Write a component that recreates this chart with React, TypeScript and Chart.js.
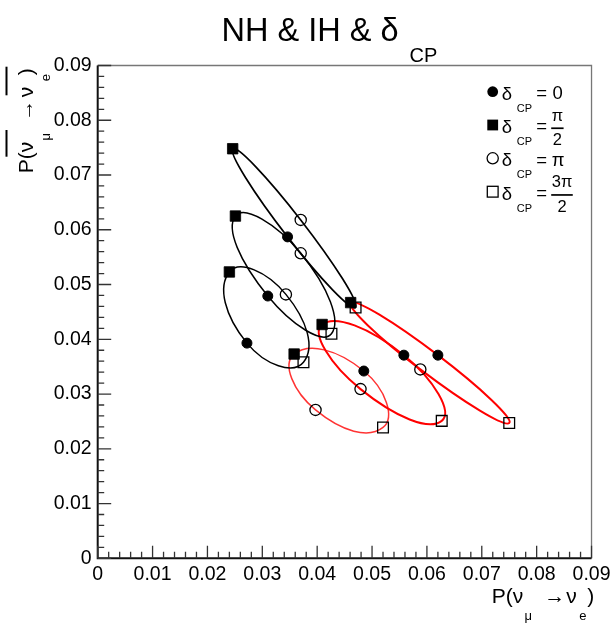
import React, { useEffect, useRef } from "react";
import { Chart, registerables } from "chart.js";

Chart.register(...registerables);

const FONT = '"Liberation Sans", Arial, Helvetica, sans-serif';

// Six bi-probability ellipses: three for NH, three for IH
const ellipseNames = ["NH 1", "NH 2", "NH 3", "IH 1", "IH 2", "IH 3"];
const hierarchy = ["NH", "NH", "NH", "IH", "IH", "IH"];

// x = P(nu_mu -> nu_e), y = P(anti-nu_mu -> anti-nu_e) at the four marked dCP values
const xDelta0 = [0.0346, 0.031, 0.0272, 0.062, 0.0558, 0.0485];
const yDelta0 = [0.0587, 0.0479, 0.0393, 0.0371, 0.0371, 0.0342];
const xDeltaHalfPi = [0.0246, 0.0251, 0.024, 0.0461, 0.0409, 0.0358];
const yDeltaHalfPi = [0.0748, 0.0625, 0.0523, 0.0467, 0.0427, 0.0373];
const xDeltaPi = [0.037, 0.037, 0.0343, 0.0588, 0.0479, 0.0397];
const yDeltaPi = [0.0618, 0.0557, 0.0482, 0.0345, 0.0309, 0.0271];
const xDelta3HalfPi = [0.047, 0.0426, 0.0375, 0.075, 0.0627, 0.052];
const yDelta3HalfPi = [0.0458, 0.041, 0.0358, 0.0247, 0.0251, 0.0239];

const axisMin = 0;
const axisMax = 0.09;
const axisStep = 0.01;

// styles (kept apart from the data)
const hierarchyColor: Record<string, string> = { NH: "#000000", IH: "#ff0000" };
const lineWidths = [1.7, 1.5, 1.5, 2, 2, 1.5];
const lineAlpha = [1, 1, 1, 1, 1, 0.8];

const pts = (xs: number[], ys: number[]) => xs.map((x, i) => ({ x, y: ys[i] }));

const closedLoopPlugin = {
  id: "closedLoop",
  afterDatasetsUpdate(chart: any) {
    chart.data.datasets.forEach((ds: any, i: number) => {
      if (!ds.closedLoop) return;
      const line = chart.getDatasetMeta(i).dataset;
      if (!line) return;
      line._loop = true;
      line._fullLoop = true;
      line._segments = undefined;
      line._path = undefined;
      line._pointsUpdated = false;
    });
  },
};

function drawRuns(ctx: CanvasRenderingContext2D, runs: { t: string; size: number; dx: number; dy: number }[], x: number, y: number) {
  for (const r of runs) {
    ctx.font = `${r.size}px ${FONT}`;
    ctx.fillText(r.t, x + r.dx, y + r.dy);
  }
}

const framePlugin = {
  id: "rootFrame",
  afterDatasetsDraw(chart: any) {
    const ctx: CanvasRenderingContext2D = chart.ctx;
    const { left, right, top, bottom } = chart.chartArea;
    const xs = chart.scales.x;
    const ys = chart.scales.y;
    ctx.save();
    // frame (top/right)
    ctx.strokeStyle = "#777";
    ctx.lineWidth = 1.3;
    ctx.beginPath();
    ctx.moveTo(left, top);
    ctx.lineTo(right, top);
    ctx.lineTo(right, bottom);
    ctx.stroke();
    // axes
    ctx.strokeStyle = "#111";
    ctx.lineWidth = 2;
    ctx.beginPath();
    ctx.moveTo(left, top);
    ctx.lineTo(left, bottom);
    ctx.lineTo(right, bottom);
    ctx.stroke();
    // ticks
    ctx.strokeStyle = "#333";
    ctx.lineWidth = 1.3;
    const xMaj = xs.ticks.map((t: any) => t.value);
    const yMaj = ys.ticks.map((t: any) => t.value);
    ctx.beginPath();
    for (let i = 0; i < xMaj.length; i++) {
      const px = xs.getPixelForValue(xMaj[i]);
      ctx.moveTo(px, bottom);
      ctx.lineTo(px, bottom - 12.5);
      if (i < xMaj.length - 1) {
        for (let k = 1; k < 5; k++) {
          const v = xMaj[i] + ((xMaj[i + 1] - xMaj[i]) * k) / 5;
          const p = xs.getPixelForValue(v);
          ctx.moveTo(p, bottom);
          ctx.lineTo(p, bottom - 6.5);
        }
      }
    }
    for (let i = 0; i < yMaj.length; i++) {
      const py = ys.getPixelForValue(yMaj[i]);
      ctx.moveTo(left, py);
      ctx.lineTo(left + 13.5, py);
      if (i < yMaj.length - 1) {
        for (let k = 1; k < 5; k++) {
          const v = yMaj[i] + ((yMaj[i + 1] - yMaj[i]) * k) / 5;
          const p = ys.getPixelForValue(v);
          ctx.moveTo(left, p);
          ctx.lineTo(left + 6.5, p);
        }
      }
    }
    ctx.stroke();
    ctx.restore();
  },
  afterDraw(chart: any) {
    const ctx: CanvasRenderingContext2D = chart.ctx;
    ctx.save();
    ctx.fillStyle = "#000";
    ctx.textBaseline = "alphabetic";
    ctx.textAlign = "left";

    // title
    drawRuns(ctx, [
      { t: "NH & IH & \u03b4", size: 32.5, dx: 0, dy: 0 },
      { t: "CP", size: 20, dx: 188, dy: 21 },
    ], 221.6, 41);

    // x title
    const xRuns = [
      { t: "P(\u03bd", size: 21, dx: 0, dy: 0 },
      { t: "\u03bc", size: 13, dx: 32.8, dy: 16.5 },
      { t: "\u2192", size: 21, dx: 52.5, dy: 0 },
      { t: "\u03bd", size: 21, dx: 74.5, dy: 0 },
      { t: "e", size: 13, dx: 87.5, dy: 16.5 },
      { t: ")", size: 21, dx: 95.5, dy: 0 },
    ];
    drawRuns(ctx, xRuns, 491.7, 603.3);

    // y title (rotated)
    ctx.save();
    ctx.translate(33.3, 173.3);
    ctx.rotate(-Math.PI / 2);
    drawRuns(ctx, [
      { t: "P(\u03bd", size: 21, dx: 0, dy: 0 },
      { t: "\u03bc", size: 13, dx: 32.8, dy: 17 },
      { t: "\u2192", size: 21, dx: 52.5, dy: 0 },
      { t: "\u03bd", size: 21, dx: 76, dy: 0 },
      { t: "e", size: 13, dx: 92, dy: 17 },
      { t: ")", size: 21, dx: 98, dy: 0 },
    ], 0, 0);
    ctx.fillRect(16.6, -27.8, 26.7, 2);
    ctx.fillRect(78, -27.8, 28.6, 2);
    ctx.restore();

    // legend
    const lx = 492.7;
    const rows = [91.7, 125, 158.3, 191.7];
    rows.forEach((y, i) => {
      ctx.fillStyle = "#000";
      ctx.strokeStyle = "#000";
      ctx.lineWidth = 1.3;
      if (i === 0) {
        ctx.beginPath();
        ctx.arc(lx, y, 5.4, 0, Math.PI * 2);
        ctx.fill();
      } else if (i === 1) {
        ctx.fillRect(lx - 5.4, y - 5.4, 10.8, 10.8);
      } else if (i === 2) {
        ctx.beginPath();
        ctx.arc(lx, y, 5.6, 0, Math.PI * 2);
        ctx.stroke();
      } else {
        ctx.strokeRect(lx - 5.4, y - 5.4, 10.8, 10.8);
      }
      drawRuns(ctx, [
        { t: "\u03b4", size: 18.5, dx: 501.7, dy: 7.8 },
        { t: "CP", size: 11, dx: 516.7, dy: 20 },
        { t: "=", size: 18.5, dx: 536.2, dy: 7.3 },
      ], 0, y);
      if (i === 0) drawRuns(ctx, [{ t: "0", size: 18.5, dx: 552.5, dy: 7.5 }], 0, y);
      if (i === 2) drawRuns(ctx, [{ t: "\u03c0", size: 18.5, dx: 551.7, dy: 7.5 }], 0, y);
      if (i === 1 || i === 3) {
        const num = i === 1 ? "\u03c0" : "3\u03c0";
        ctx.font = `16.5px ${FONT}`;
        const w = ctx.measureText(num).width;
        const bar = y + 3.2;
        ctx.fillText(num, 551.7, bar - 7.5);
        ctx.fillRect(551.2, bar - 0.8, w + 1, 1.7);
        const w2 = ctx.measureText("2").width;
        ctx.fillText("2", 551.7 + (w - w2) / 2, bar + 17);
      }
    });
    ctx.restore();
  },
};

const fmt = (v: any) => (Math.abs(Number(v)) < 1e-9 ? "0" : Number(v).toFixed(2));

export default function App() {
  const ref = useRef<HTMLCanvasElement>(null);
  useEffect(() => {
    const canvas = ref.current!;
    const markerSets = [
      { label: "dCP = 0", data: pts(xDelta0, yDelta0), pointStyle: "circle", radius: 5, bg: "#000", bw: 1 },
      { label: "dCP = pi/2", data: pts(xDeltaHalfPi, yDeltaHalfPi), pointStyle: "rect", radius: 7.4, bg: "#000", bw: 0.8 },
      { label: "dCP = pi", data: pts(xDeltaPi, yDeltaPi), pointStyle: "circle", radius: 5.6, bg: "rgba(0,0,0,0)", bw: 1.3 },
      { label: "dCP = 3pi/2", data: pts(xDelta3HalfPi, yDelta3HalfPi), pointStyle: "rect", radius: 7.6, bg: "rgba(0,0,0,0)", bw: 1.3 },
    ].map((m) => ({
      label: m.label,
      data: m.data,
      showLine: false,
      pointStyle: m.pointStyle,
      pointRadius: m.radius,
      pointBackgroundColor: m.bg,
      pointBorderColor: "#000",
      pointBorderWidth: m.bw,
      order: 0,
    }));
    const ellipseSets = ellipseNames.map((name, i) => {
      const c = hierarchyColor[hierarchy[i]];
      return {
        label: name,
        closedLoop: true,
        data: [
          { x: xDelta0[i], y: yDelta0[i] },
          { x: xDeltaHalfPi[i], y: yDeltaHalfPi[i] },
          { x: xDeltaPi[i], y: yDeltaPi[i] },
          { x: xDelta3HalfPi[i], y: yDelta3HalfPi[i] },
        ],
        showLine: true,
        tension: 0.5523,
        borderColor: lineAlpha[i] < 1 ? `rgba(255,0,0,${lineAlpha[i]})` : c,
        borderWidth: lineWidths[i],
        pointRadius: 0,
        fill: false,
        order: 1,
      };
    });
    const chart = new Chart(canvas, {
      type: "line",
      data: { datasets: [...markerSets, ...ellipseSets] as any },
      options: {
        animation: false,
        responsive: false,
        events: [],
        layout: { padding: { top: 65.5, right: 21.7, left: 0, bottom: 0 } },
        plugins: { legend: { display: false }, tooltip: { enabled: false }, title: { display: false } },
        scales: {
          x: {
            type: "linear",
            min: axisMin,
            max: axisMax,
            position: "bottom",
            afterFit: (s: any) => {
              s.height = 64.7;
            },
            grid: { display: false, drawTicks: false },
            border: { display: false },
            ticks: {
              stepSize: axisStep,
              padding: 4.5,
              color: "#000",
              font: { family: FONT, size: 19.5 },
              maxRotation: 0,
              autoSkip: false,
              callback: fmt,
            },
          },
          y: {
            type: "linear",
            min: axisMin,
            max: axisMax,
            position: "left",
            afterFit: (s: any) => {
              s.width = 97.7;
            },
            grid: { display: false, drawTicks: false },
            border: { display: false },
            ticks: {
              stepSize: axisStep,
              padding: 6,
              color: "#000",
              font: { family: FONT, size: 19.5 },
              autoSkip: false,
              callback: fmt,
            },
          },
        },
      } as any,
      plugins: [closedLoopPlugin, framePlugin],
    });
    return () => chart.destroy();
  }, []);
  return (
    <div style={{ position: "absolute", left: 0, top: 0, width: 615, height: 623, background: "#fff" }}>
      <canvas ref={ref} width={615} height={623} style={{ display: "block" }} />
    </div>
  );
}
